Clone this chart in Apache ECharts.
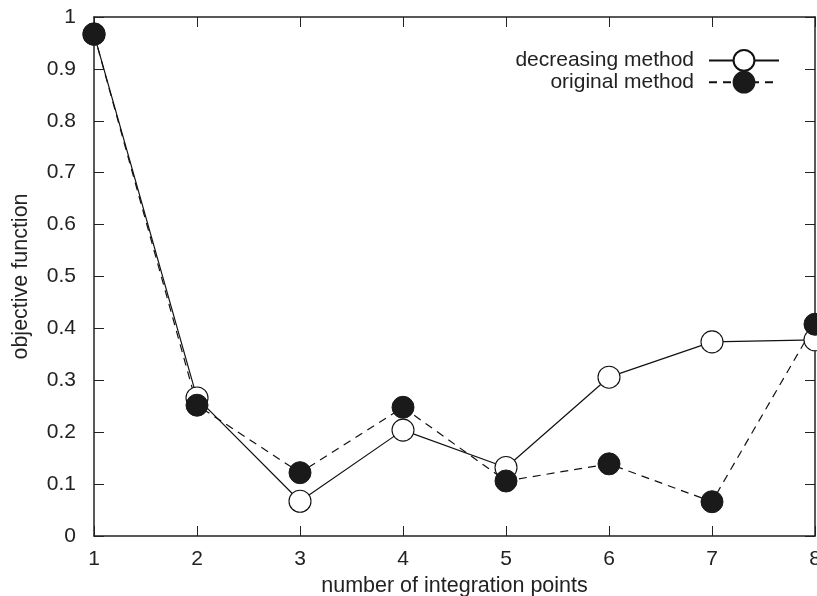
<!DOCTYPE html>
<html><head><meta charset="utf-8">
<script src="https://cdn.jsdelivr.net/npm/echarts@6/dist/echarts.min.js"></script>
<style>html,body{margin:0;padding:0;background:#fff}#c{width:817px;height:596px}</style>
</head><body><div id="c"></div>
<script>
var xValues = [1, 2, 3, 4, 5, 6, 7, 8];
var decreasing = [0.967, 0.266, 0.067, 0.204, 0.132, 0.306, 0.374, 0.378];
var original = [0.967, 0.252, 0.122, 0.248, 0.106, 0.139, 0.066, 0.408];
var seriesNames = ['decreasing method', 'original method'];
var xTitle = 'number of integration points';
var yTitle = 'objective function';

function pairs(arr){ return xValues.map(function(x,i){return [x, arr[i]];}); }
var font = 'Liberation Sans, Arial, sans-serif';
var fs = 21;
var axisColor = '#222';
var chart = echarts.init(document.getElementById('c'));
chart.setOption({
  animation: false,
  backgroundColor: '#fff',
  grid: {left: 94, right: 2, top: 17, bottom: 60, containLabel: false, outerBoundsMode: 'none'},
  legend: {
    right: 32, top: 44, orient: 'vertical', align: 'right',
    itemWidth: 70, itemHeight: 26, itemGap: -1,
    textStyle: {fontFamily: font, fontSize: fs, color: '#222', padding: [0, 10, 0, 0]},
    data: seriesNames
  },
  xAxis: [{
    type: 'value', min: 1, max: 8, interval: 1, position: 'bottom',
    name: xTitle, nameLocation: 'middle', nameGap: 38,
    nameTextStyle: {fontFamily: font, fontSize: 21.5, color: '#222'},
    axisLine: {show: true, onZero: false, lineStyle: {color: axisColor, width: 1.5}},
    axisTick: {show: true, inside: true, length: 10, lineStyle: {color: axisColor}},
    axisLabel: {fontFamily: font, fontSize: fs, color: '#222', margin: 13},
    splitLine: {show: false}
  }, {
    type: 'value', min: 1, max: 8, interval: 1, position: 'top',
    axisLine: {show: true, onZero: false, lineStyle: {color: axisColor, width: 1.5}},
    axisTick: {show: true, inside: true, length: 10, lineStyle: {color: axisColor}},
    axisLabel: {show: false}, splitLine: {show: false}
  }],
  yAxis: [{
    type: 'value', min: 0, max: 1, interval: 0.1, position: 'left',
    name: yTitle, nameLocation: 'middle', nameGap: 62, nameRotate: 90,
    nameTextStyle: {fontFamily: font, fontSize: 21.5, color: '#222'},
    axisLine: {show: true, onZero: false, lineStyle: {color: axisColor, width: 1.5}},
    axisTick: {show: true, inside: true, length: 10, lineStyle: {color: axisColor}},
    axisLabel: {fontFamily: font, fontSize: fs, color: '#222', margin: 18,
      formatter: function(v){ return (Math.round(v*10)/10).toString(); }},
    splitLine: {show: false}
  }, {
    type: 'value', min: 0, max: 1, interval: 0.1, position: 'right',
    axisLine: {show: true, onZero: false, lineStyle: {color: axisColor, width: 1.5}},
    axisTick: {show: true, inside: true, length: 10, lineStyle: {color: axisColor}},
    axisLabel: {show: false}, splitLine: {show: false}
  }],
  series: [{
    name: seriesNames[0], type: 'line', data: pairs(decreasing), clip: false,
    symbol: 'circle', symbolSize: 22,
    lineStyle: {color: '#111', width: 1.2, type: 'solid'},
    itemStyle: {color: '#fff', borderColor: '#111', borderWidth: 1.1},
    emphasis: {disabled: true}
  }, {
    name: seriesNames[1], type: 'line', data: pairs(original), clip: false,
    symbol: 'circle', symbolSize: 22,
    lineStyle: {color: '#111', width: 1.2, type: [8, 6]},
    itemStyle: {color: '#1a1a1a', borderColor: '#1a1a1a', borderWidth: 1},
    emphasis: {disabled: true}
  }]
});
</script></body></html>
